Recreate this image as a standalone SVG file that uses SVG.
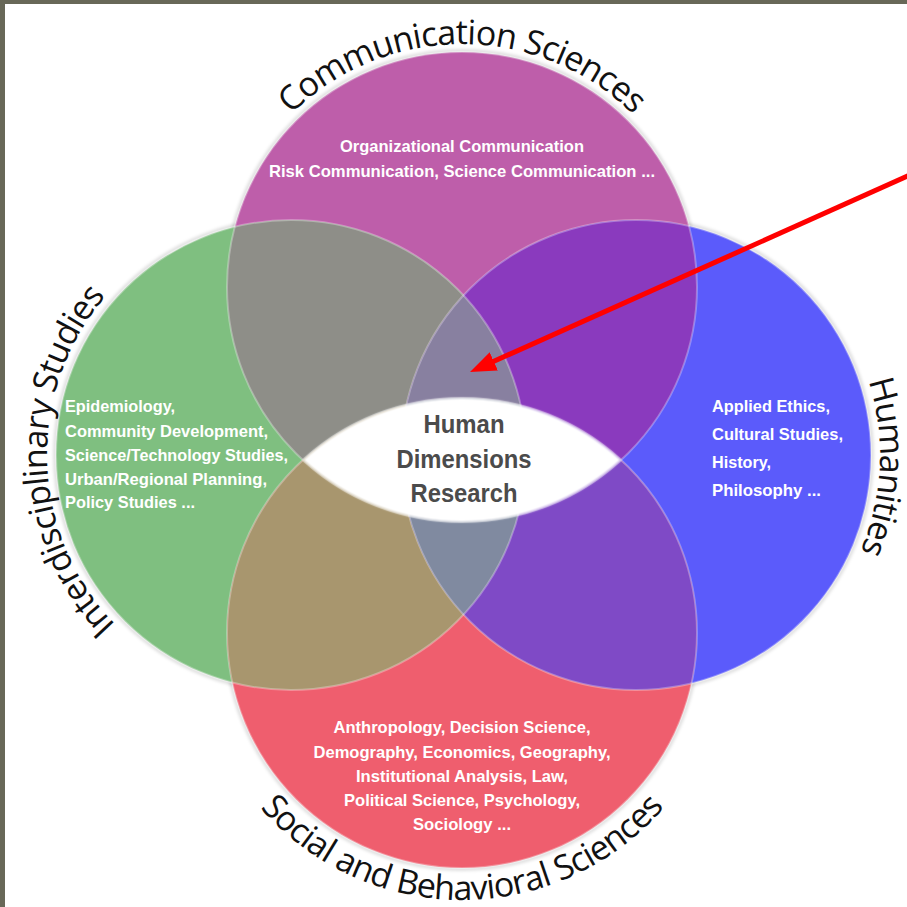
<svg xmlns="http://www.w3.org/2000/svg" width="907" height="907" viewBox="0 0 907 907">
<style>
.arc{font-family:"Open Sans","Noto Sans",sans-serif;font-size:34px;fill:#111;letter-spacing:-0.8px}
.body{font-family:"Liberation Sans",Arial,sans-serif;font-weight:bold;font-size:17px;fill:#fff}
.ctr{font-family:"Liberation Sans",Arial,sans-serif;font-weight:bold;font-size:26px;fill:#4b4b4b}
.edge{fill:none;stroke:#fff;stroke-opacity:.3;stroke-width:2}
.shadow{fill:none;stroke:#000;stroke-opacity:.12;stroke-width:4}
</style>
<defs>
<clipPath id="cM"><circle cx="462" cy="287" r="235"/></clipPath>
<clipPath id="cG"><circle cx="291" cy="455" r="235"/></clipPath>
<clipPath id="cB"><circle cx="636" cy="455" r="235"/></clipPath>
<clipPath id="cR"><circle cx="462" cy="633" r="235"/></clipPath>
<filter id="blur" x="-5%" y="-5%" width="110%" height="110%"><feGaussianBlur stdDeviation="1.5"/></filter>
<filter id="soft" x="-10%" y="-20%" width="120%" height="140%"><feGaussianBlur stdDeviation="1.2"/></filter>
<marker id="ah" markerUnits="userSpaceOnUse" markerWidth="28" markerHeight="22" refX="6" refY="10" orient="auto"><path d="M0,0 L26,10 L0,20 Z" fill="#ff0000"/></marker>
<path id="pTop" d="M219,287 A243,243 0 0 1 705,287"/>
<path id="pLeft" d="M291,699 A244,244 0 0 1 291,211"/>
<path id="pRight" d="M636,211 A244,244 0 0 1 636,699"/>
<path id="pBot" d="M195,633 A267,267 0 0 0 729,633"/>
</defs>
<rect x="0" y="0" width="907" height="907" fill="#686858"/>
<rect x="5" y="4" width="902" height="903" fill="#fff"/>

<g id="shadows" filter="url(#blur)">
<circle class="shadow" cx="462" cy="287" r="236"/>
<circle class="shadow" cx="291" cy="455" r="236"/>
<circle class="shadow" cx="636" cy="455" r="236"/>
<circle class="shadow" cx="462" cy="633" r="236"/>
</g>

<g id="communication-sciences">
<circle cx="462" cy="287" r="235" fill="#be5eaa"/>
<text class="arc"><textPath href="#pTop" startOffset="50%" text-anchor="middle">Communication Sciences</textPath></text>
<text class="body" x="462" y="152" text-anchor="middle" textLength="244" lengthAdjust="spacingAndGlyphs">Organizational Communication</text>
<text class="body" x="462" y="177" text-anchor="middle" textLength="386" lengthAdjust="spacingAndGlyphs">Risk Communication, Science Communication ...</text>
</g>

<g id="interdisciplinary-studies">
<circle cx="291" cy="455" r="235" fill="#7fbf80"/>
<text class="arc"><textPath href="#pLeft" startOffset="49%" text-anchor="middle">Interdisciplinary Studies</textPath></text>
<text class="body" x="65" y="412" textLength="110" lengthAdjust="spacingAndGlyphs">Epidemiology,</text>
<text class="body" x="65" y="437" textLength="203" lengthAdjust="spacingAndGlyphs">Community Development,</text>
<text class="body" x="65" y="461" textLength="223" lengthAdjust="spacingAndGlyphs">Science/Technology Studies,</text>
<text class="body" x="65" y="485" textLength="202" lengthAdjust="spacingAndGlyphs">Urban/Regional Planning,</text>
<text class="body" x="65" y="508" textLength="130" lengthAdjust="spacingAndGlyphs">Policy Studies ...</text>
</g>

<g id="humanities">
<circle cx="636" cy="455" r="235" fill="#5b5bfb"/>
<text class="arc"><textPath href="#pRight" startOffset="51.5%" text-anchor="middle">Humanities</textPath></text>
<text class="body" x="712" y="412" textLength="118" lengthAdjust="spacingAndGlyphs">Applied Ethics,</text>
<text class="body" x="712" y="440" textLength="131" lengthAdjust="spacingAndGlyphs">Cultural Studies,</text>
<text class="body" x="712" y="468" textLength="59" lengthAdjust="spacingAndGlyphs">History,</text>
<text class="body" x="712" y="496" textLength="109" lengthAdjust="spacingAndGlyphs">Philosophy ...</text>
</g>

<g id="social-behavioral-sciences">
<circle cx="462" cy="633" r="235" fill="#ef5e6e"/>
<text class="arc"><textPath href="#pBot" startOffset="50%" text-anchor="middle">Social and Behavioral Sciences</textPath></text>
<text class="body" x="462" y="733" text-anchor="middle" textLength="257" lengthAdjust="spacingAndGlyphs">Anthropology, Decision Science,</text>
<text class="body" x="462" y="758" text-anchor="middle" textLength="297" lengthAdjust="spacingAndGlyphs">Demography, Economics, Geography,</text>
<text class="body" x="462" y="782" text-anchor="middle" textLength="212" lengthAdjust="spacingAndGlyphs">Institutional Analysis, Law,</text>
<text class="body" x="462" y="806" text-anchor="middle" textLength="236" lengthAdjust="spacingAndGlyphs">Political Science, Psychology,</text>
<text class="body" x="462" y="830" text-anchor="middle" textLength="98" lengthAdjust="spacingAndGlyphs">Sociology ...</text>
</g>

<g id="overlaps">
<g clip-path="url(#cM)"><circle cx="291" cy="455" r="235" fill="#8e8e88"/><circle cx="636" cy="455" r="235" fill="#8a3abe"/></g>
<g clip-path="url(#cR)"><circle cx="291" cy="455" r="235" fill="#a8966e"/><circle cx="636" cy="455" r="235" fill="#7f4ac6"/></g>
<g clip-path="url(#cM)"><g clip-path="url(#cB)"><circle cx="291" cy="455" r="235" fill="#8880a0"/></g></g>
<g clip-path="url(#cR)"><g clip-path="url(#cB)"><circle cx="291" cy="455" r="235" fill="#808aa0"/></g></g>
<circle class="edge" cx="462" cy="287" r="235"/>
<circle class="edge" cx="291" cy="455" r="235"/>
<circle class="edge" cx="636" cy="455" r="235"/>
<circle class="edge" cx="462" cy="633" r="235"/>
</g>

<g id="human-dimensions-research">
<path d="M303,460 A235,235 0 0 1 621,460 A235,235 0 0 1 303,460 Z" fill="#fff" filter="url(#soft)"/>
<text class="ctr" x="464" y="433" text-anchor="middle" textLength="81" lengthAdjust="spacingAndGlyphs">Human</text>
<text class="ctr" x="464" y="468" text-anchor="middle" textLength="135" lengthAdjust="spacingAndGlyphs">Dimensions</text>
<text class="ctr" x="464" y="502" text-anchor="middle" textLength="107" lengthAdjust="spacingAndGlyphs">Research</text>
</g>

<g id="connectors">
<line x1="910" y1="175" x2="488.3" y2="363.8" stroke="#ff0000" stroke-width="5" marker-end="url(#ah)"/>
</g>
</svg>
